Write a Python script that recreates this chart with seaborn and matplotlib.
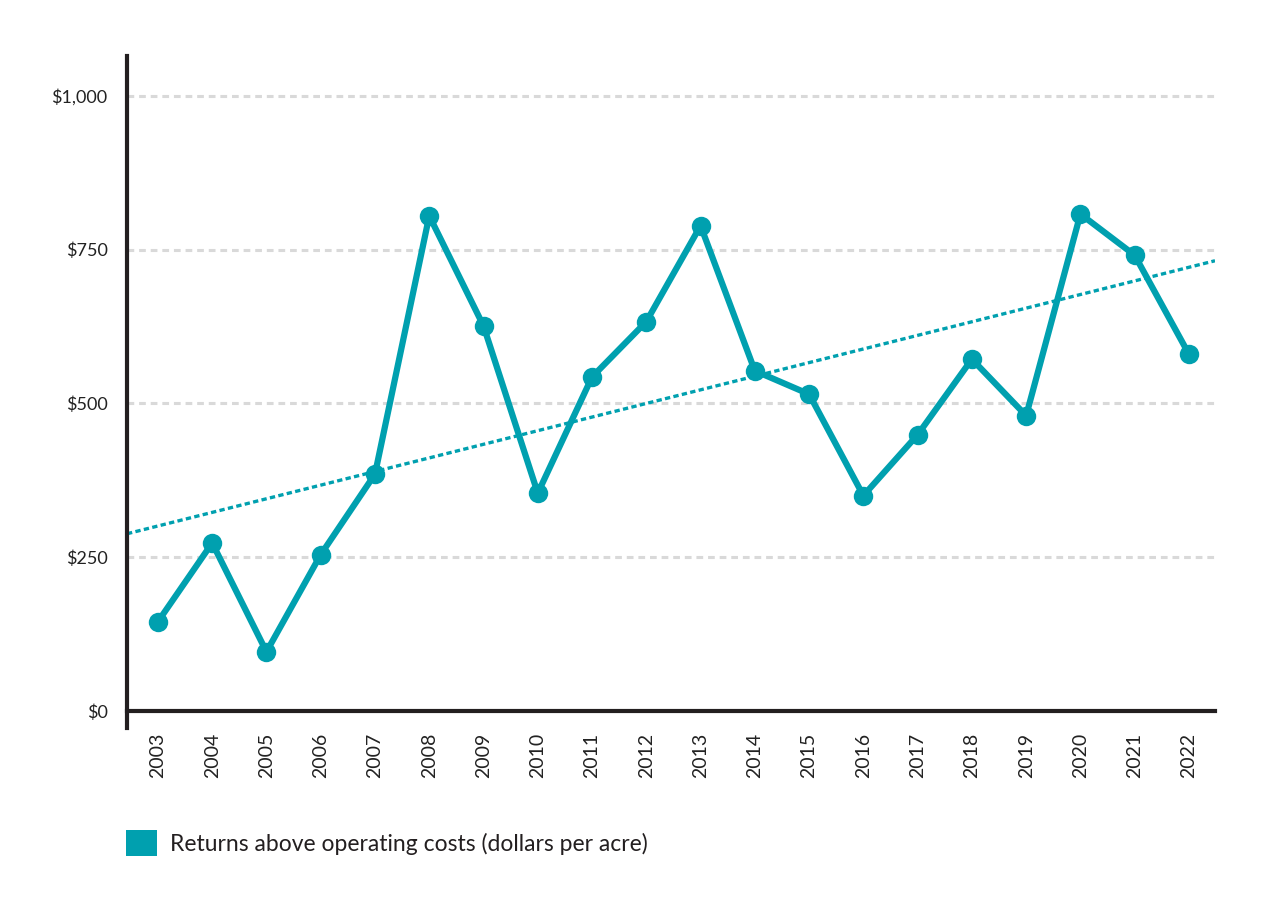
import numpy as np
import pandas as pd
import matplotlib.pyplot as plt
import seaborn as sns
from matplotlib.patches import Patch

# Data
years = [2003, 2004, 2005, 2006, 2007, 2008, 2009, 2010, 2011, 2012,
         2013, 2014, 2015, 2016, 2017, 2018, 2019, 2020, 2021, 2022]
returns = [145, 273, 96, 254, 385, 805, 626, 354, 543, 633,
           789, 553, 515, 350, 449, 572, 480, 808, 741, 580]
# trend line end points as drawn on the chart
trend_years = [2002.43, 2022.48]
trend_values = [288, 732]
yticks = [0, 250, 500, 750, 1000]
ytick_labels = ["$0", "$250", "$500", "$750", "$1,000"]
legend_label = "Returns above operating costs (dollars per acre)"

df = pd.DataFrame({"Year": years, "Returns": returns})

teal = "#00A0AF"

sns.set_style("white")
plt.rcParams["font.family"] = ["Lato", "DejaVu Sans"]

fig = plt.figure(figsize=(12.75, 9.07), dpi=100)
ax = fig.add_axes([127 / 1275, 1 - 711 / 907 - 0.0188, (1215 - 127) / 1275, (711 - 56) / 907 + 0.0188])

# gridlines
for v in yticks[1:]:
    ax.axhline(v, color="#d9d9d9", lw=2.2, ls=(0, (2.2, 1.6)), zorder=0)

# trend line
ax.plot(trend_years, trend_values, color=teal, lw=2.4, ls=(0, (1.6, 1.0)), zorder=2)

sns.lineplot(data=df, x="Year", y="Returns", ax=ax, color=teal, lw=4.5,
             marker="o", markersize=14, markeredgewidth=0, zorder=3)

for s in ["top", "right"]:
    ax.spines[s].set_visible(False)
ax.spines["left"].set_color("#231f20")
ax.spines["left"].set_linewidth(3)
ax.spines["bottom"].set_color("#231f20")
ax.spines["bottom"].set_linewidth(3)
ax.spines["bottom"].set_position(("data", 0))

ax.set_xlim(2002.43, 2022.48)
ax.set_ylim(-28, 1065)
ax.set_yticks(yticks)
ax.set_yticklabels(ytick_labels, fontsize=13, color="#222222")
ax.set_xticks(years)
ax.set_xticklabels([str(y) for y in years], rotation=90, fontsize=14, color="#222222")
ax.tick_params(axis="x", length=0, pad=16)
ax.tick_params(axis="y", length=0, pad=14)
ax.set_xlabel("")
ax.set_ylabel("")

handle = Patch(facecolor=teal, edgecolor="none")
fig.legend([handle], [legend_label], loc="center left",
           bbox_to_anchor=(115 / 1275, 1 - 843 / 907), frameon=False,
           fontsize=16.5, handlelength=1.35, handleheight=1.35, handletextpad=0.55,
           borderpad=0, labelcolor="#231f20")

fig.savefig("out.png", dpi=100, facecolor="white")
